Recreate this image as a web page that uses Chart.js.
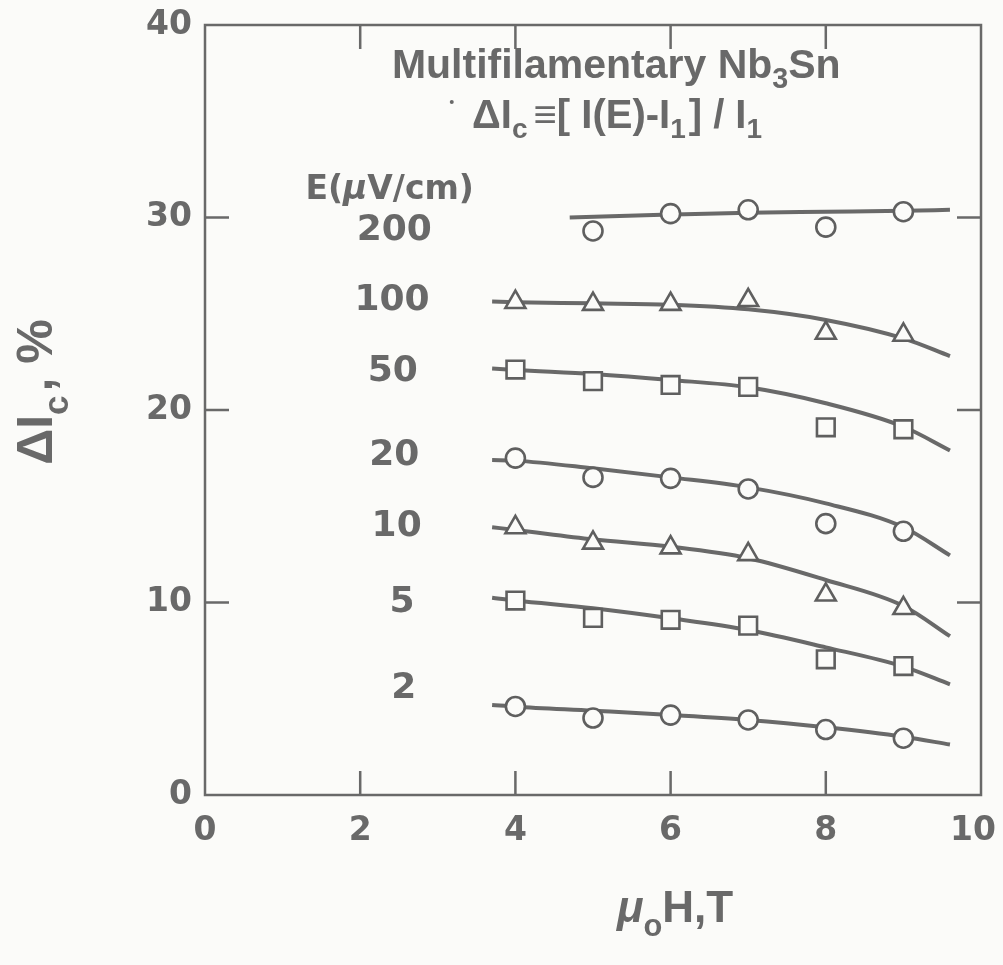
<!DOCTYPE html>
<html>
<head>
<meta charset="utf-8">
<script src="https://cdn.jsdelivr.net/npm/chart.js@4"></script>
<style>
  html, body { margin: 0; padding: 0; background: #fbfbf9; }
  #wrap { width: 1003px; height: 965px; }
</style>
</head>
<body>
<div id="wrap"><canvas id="chart" width="1003" height="965"></canvas></div>
<script>
// measured points, field in T
const fieldT = [4, 5, 6, 7, 8, 9];
const field200 = [5, 6, 7, 8, 9];
const pts200 = [29.3, 30.2, 30.4, 29.5, 30.3];
const pts100 = [25.6, 25.5, 25.5, 25.7, 24.0, 23.9];
const pts50 = [22.1, 21.5, 21.3, 21.2, 19.1, 19.0];
const pts20 = [17.5, 16.5, 16.45, 15.9, 14.1, 13.7];
const pts10 = [13.9, 13.1, 12.85, 12.5, 10.4, 9.7];
const pts5 = [10.1, 9.2, 9.1, 8.8, 7.05, 6.7];
const pts2 = [4.6, 4.0, 4.15, 3.9, 3.4, 2.95];

// smooth fitted curves
const fitX = [3.7, 4, 5, 6, 7, 8, 9, 9.6];
const fit200X = [4.7, 6, 7, 8, 9, 9.6];
const fit200 = [30.0, 30.15, 30.25, 30.3, 30.35, 30.4];
const fit100 = [25.63, 25.6, 25.54, 25.47, 25.23, 24.68, 23.72, 22.8];
const fit50 = [22.16, 22.08, 21.87, 21.56, 21.18, 20.35, 19.13, 17.9];
const fit20 = [17.4, 17.37, 16.97, 16.5, 15.98, 15.15, 13.91, 12.45];
const fit10 = [13.91, 13.77, 13.28, 12.9, 12.3, 11.17, 9.82, 8.25];
const fit5 = [10.25, 10.1, 9.7, 9.18, 8.57, 7.67, 6.67, 5.75];
const fit2 = [4.68, 4.59, 4.38, 4.16, 3.9, 3.52, 3.03, 2.62];

const xTicks = [0, 2, 4, 6, 8, 10];
const yTicks = [0, 10, 20, 30, 40];
const eLabels = ["200", "100", "50", "20", "10", "5", "2"];

const ink = "#696969";
const bg = "#fbfbf9";
const fam = '"Liberation Sans", Arial, sans-serif';
const wide = '"DejaVu Sans", Verdana, sans-serif';

const zip = (xs, ys) => xs.map((x, i) => ({ x: x, y: ys[i] }));

function curve(xs, ys) {
  return {
    data: zip(xs, ys),
    borderColor: ink,
    borderWidth: 4,
    pointRadius: 0,
    cubicInterpolationMode: "monotone",
    order: 2,
  };
}
function marks(xs, ys, style, r) {
  return {
    data: zip(xs, ys),
    showLine: false,
    pointStyle: style,
    pointRadius: r,
    pointBorderWidth: 2.6,
    pointBorderColor: "#5f5f5f",
    pointBackgroundColor: bg,
    order: 1,
  };
}

function drawRich(ctx, parts, x, y, size, family) {
  let total = 0;
  const fontOf = (p) => (p.italic ? "italic " : "") + "bold " + (p.sub ? size * 0.7 : size) + "px " + (p.fam || family);
  parts.forEach((p) => {
    ctx.font = fontOf(p);
    p.w = ctx.measureText(p.t).width + (p.gap || 0);
    total += p.w;
  });
  let cx = x - total / 2;
  ctx.textAlign = "left";
  parts.forEach((p) => {
    ctx.font = fontOf(p);
    ctx.fillText(p.t, cx, y + (p.sub ? size * 0.32 : 0));
    cx += p.w;
  });
}

const decor = {
  id: "decor",
  beforeDraw(chart) {
    const ctx = chart.ctx;
    ctx.save();
    ctx.fillStyle = bg;
    ctx.fillRect(0, 0, chart.width, chart.height);
    ctx.restore();
  },
  afterDraw(chart) {
    const ctx = chart.ctx;
    const a = chart.chartArea;
    const xs = chart.scales.x, ys = chart.scales.y;
    ctx.save();
    // frame + inward ticks
    ctx.strokeStyle = ink;
    ctx.lineWidth = 2.5;
    ctx.strokeRect(a.left, a.top, a.right - a.left, a.bottom - a.top);
    const tl = 24;
    ctx.beginPath();
    xTicks.slice(1, -1).forEach((v) => {
      const px = xs.getPixelForValue(v);
      ctx.moveTo(px, a.bottom); ctx.lineTo(px, a.bottom - tl);
      ctx.moveTo(px, a.top); ctx.lineTo(px, a.top + tl);
    });
    yTicks.slice(1, -1).forEach((v) => {
      const py = ys.getPixelForValue(v);
      ctx.moveTo(a.left, py); ctx.lineTo(a.left + tl, py);
      ctx.moveTo(a.right, py); ctx.lineTo(a.right - tl, py);
    });
    ctx.stroke();

    ctx.fillStyle = ink;
    ctx.textBaseline = "middle";
    // tick labels
    ctx.font = "bold 33px " + wide;
    ctx.textAlign = "center";
    xTicks.forEach((v, i) => {
      const shift = i === xTicks.length - 1 ? -8 : 0;
      ctx.fillText(String(v), xs.getPixelForValue(v) + shift, a.bottom + 36);
    });
    ctx.textAlign = "right";
    yTicks.forEach((v) => ctx.fillText(String(v), a.left - 13, ys.getPixelForValue(v)));

    const at = (x, y) => [xs.getPixelForValue(x), ys.getPixelForValue(y)];

    // curve labels
    const labelPos = [[2.44, 29.3], [2.41, 25.7], [2.42, 22.0], [2.44, 17.65], [2.47, 13.92], [2.54, 9.97], [2.56, 5.5]];
    ctx.font = "bold 36px " + wide;
    ctx.textAlign = "center";
    eLabels.forEach((t, i) => {
      const p = at(labelPos[i][0], labelPos[i][1]);
      ctx.fillText(t, p[0], p[1]);
    });
    let p = at(2.38, 31.43);
    drawRich(ctx, [{ t: "E(" }, { t: "\u03bc", italic: true }, { t: "V/cm)" }], p[0], p[1], 33, wide);

    p = at(5.3, 37.82);
    drawRich(ctx, [{ t: "Multifilamentary Nb" }, { t: "3", sub: true }, { t: "Sn" }], p[0], p[1], 41, fam);
    p = at(5.31, 35.2);
    drawRich(ctx, [{ t: "\u0394I" }, { t: "c", sub: true, gap: 6 }, { t: "\u2261[ I(E)-I" }, { t: "1", sub: true, gap: 3 }, { t: "] / I" }, { t: "1", sub: true }], p[0], p[1], 40, fam);
    // small speck left of the formula
    p = at(3.18, 36.0);
    ctx.beginPath();
    ctx.arc(p[0], p[1], 2, 0, Math.PI * 2);
    ctx.fill();

    // axis titles
    ctx.textBaseline = "alphabetic";
    drawRich(ctx, [{ t: "\u03bc", italic: true }, { t: "o", sub: true }, { t: "H,T" }], 675, 922, 44, fam);
    ctx.translate(52, 392);
    ctx.rotate(-Math.PI / 2);
    drawRich(ctx, [{ t: "\u0394I" }, { t: "c", sub: true, gap: 4 }, { t: ", %" }], 0, 0, 50, fam);
    ctx.restore();
  },
};

new Chart(document.getElementById("chart"), {
  type: "line",
  data: {
    datasets: [
      curve(fit200X, fit200),
      curve(fitX, fit100),
      curve(fitX, fit50),
      curve(fitX, fit20),
      curve(fitX, fit10),
      curve(fitX, fit5),
      curve(fitX, fit2),
      marks(field200, pts200, "circle", 9.5),
      marks(fieldT, pts100, "triangle", 11.5),
      marks(fieldT, pts50, "rect", 12.5),
      marks(fieldT, pts20, "circle", 9.5),
      marks(fieldT, pts10, "triangle", 11.5),
      marks(fieldT, pts5, "rect", 12.5),
      marks(fieldT, pts2, "circle", 9.5),
    ],
  },
  options: {
    responsive: false,
    animation: false,
    devicePixelRatio: 1,
    layout: { padding: { left: 0, right: 22, top: 25, bottom: 0 } },
    plugins: { legend: { display: false }, tooltip: { enabled: false } },
    scales: {
      x: {
        type: "linear",
        min: 0,
        max: 10,
        afterFit: (s) => { s.height = 170; },
        grid: { display: false },
        border: { display: false },
        ticks: { display: false, stepSize: 2 },
      },
      y: {
        type: "linear",
        min: 0,
        max: 40,
        afterFit: (s) => { s.width = 205; },
        grid: { display: false },
        border: { display: false },
        ticks: { display: false, stepSize: 10 },
      },
    },
  },
  plugins: [decor],
});
</script>
</body>
</html>
